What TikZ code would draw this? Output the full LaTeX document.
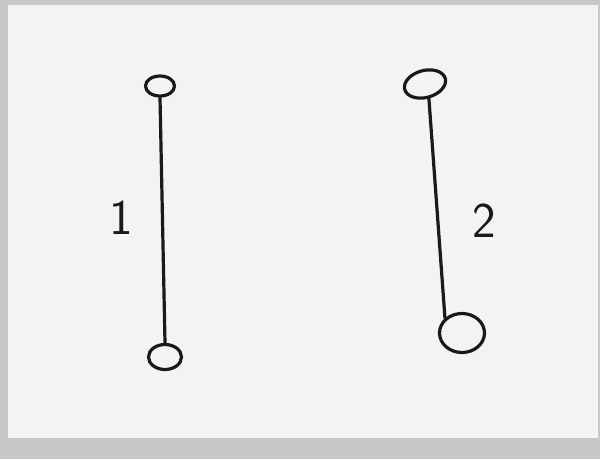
\documentclass[tikz,border=0pt]{standalone}
\usetikzlibrary{shapes.geometric}
\definecolor{frame}{RGB}{200,200,202}
\definecolor{paper}{RGB}{243,243,246}
\definecolor{ink}{RGB}{25,25,28}
\begin{document}
\begin{tikzpicture}[x=1pt,y=-1pt,
  vert/.style={ellipse,draw=ink,line width=3.2pt,inner sep=0pt},
  edgeline/.style={draw=ink,line width=3.2pt,line cap=round},
  lbl/.style={text=ink,font=\sffamily\fontsize{50}{50}\selectfont,inner sep=0pt}]
\useasboundingbox (0,0) rectangle (600,459);
\fill[frame] (0,0) rectangle (600,459);
\fill[paper] (8,5) rectangle (598,438);
% graph 1
\node[vert,minimum width=29pt,minimum height=20pt] (a1) at (160,86) {};
\node[vert,minimum width=33pt,minimum height=25pt] (b1) at (165,357) {};
\draw[edgeline] (a1.south) -- (b1.north);
\node[lbl] (l1) at (121,218) {1};
% graph 2
\node[vert,minimum width=42pt,minimum height=27pt,rotate=15] (a2) at (425,84) {};
\node[vert,minimum width=45pt,minimum height=39pt] (b2) at (462,333) {};
\draw[edgeline] (a2.south) -- (b2.north west);
\node[lbl] (l2) at (484,221) {2};
\end{tikzpicture}
\end{document}
